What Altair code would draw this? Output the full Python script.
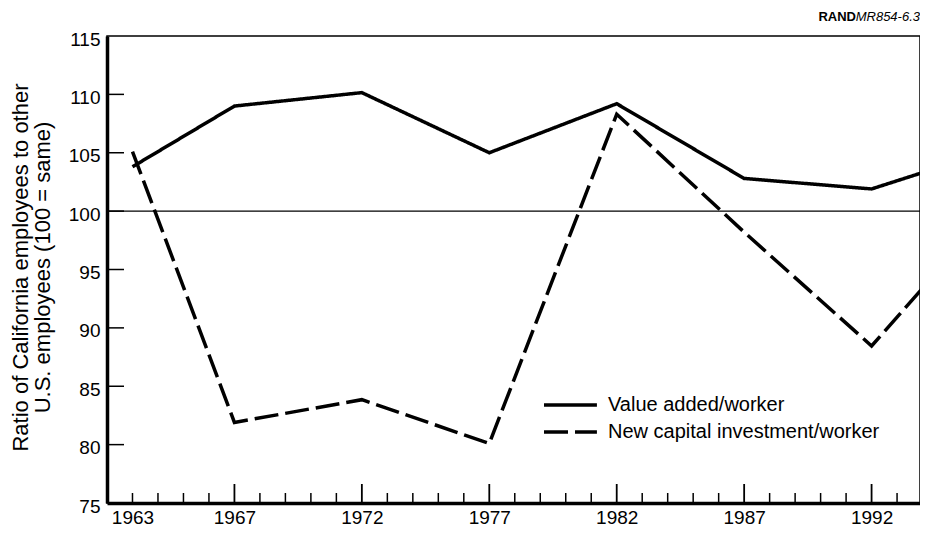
import altair as alt
import pandas as pd

FONT = "Liberation Sans"

# ---- data ----
SERIES = ["Value added/worker", "New capital investment/worker"]
YEARS_VA = [1963, 1967, 1972, 1977, 1982, 1987, 1992, 1994]
VALUE_ADDED = [103.8, 109.0, 110.15, 105.0, 109.2, 102.8, 101.9, 103.3]
YEARS_NC = [1963, 1967, 1972, 1977, 1982, 1987, 1992, 1994]
NEW_CAPITAL = [105.1, 81.9, 83.85, 80.1, 108.3, 98.2, 88.45, 93.4]

X_LABEL_YEARS = [1963, 1967, 1972, 1977, 1982, 1987, 1992]
X_TICK_YEARS = list(range(1963, 1994))
Y_TICKS = [75, 80, 85, 90, 95, 100, 105, 110, 115]
Y_INNER_TICKS = [80, 85, 90, 95, 100, 105, 110]
Y_TITLE = ["Ratio of California employees to other", "U.S. employees (100 = same)"]
REFERENCE = [100]
SOURCE_BOLD = ["RAND"]
SOURCE_ITALIC = ["MR854-6.3"]

df = pd.DataFrame(
    {
        "year": YEARS_VA + YEARS_NC,
        "value": VALUE_ADDED + NEW_CAPITAL,
        "series": [SERIES[0]] * len(YEARS_VA) + [SERIES[1]] * len(YEARS_NC),
    }
)
ticks_x = pd.DataFrame({"year": X_TICK_YEARS})
ticks_y = pd.DataFrame({"value": Y_INNER_TICKS})
ref_df = pd.DataFrame({"value": REFERENCE})

W, H = 813, 467
PAD_L, PAD_T = 99, 28

x_scale = alt.Scale(domain=[1962, 1993.9], nice=False, zero=False)
y_scale = alt.Scale(domain=[75, 115], nice=False, zero=False)

x_axis = alt.Axis(
    values=X_LABEL_YEARS,
    format="d",
    ticks=False,
    grid=False,
    title="",
    domainWidth=3.5,
    domainColor="black",
    labelFontSize=19,
    labelFont=FONT,
    labelColor="black",
    labelPadding=5,
    labelFlush=False,
)
y_axis = alt.Axis(
    values=Y_TICKS,
    ticks=False,
    grid=False,
    domainWidth=3.5,
    domainColor="black",
    labelFontSize=19,
    labelFont=FONT,
    labelColor="black",
    labelPadding=7,
    labelOffset=3,
    title=Y_TITLE,
    titleFont=FONT,
    titleFontSize=22,
    titleFontWeight="normal",
    titleColor="black",
    titleLineHeight=22,
    titleAngle=270,
    titleAlign="center",
    titleBaseline="middle",
    titleX=-87,
    titleY=231,
)

X = alt.X("year:Q", scale=x_scale, axis=x_axis)
Y = alt.Y("value:Q", scale=y_scale, axis=y_axis)

ref = alt.Chart(ref_df).mark_rule(color="black", strokeWidth=1.3).encode(y=Y)

lines = alt.Chart(df).mark_line(color="black", strokeWidth=3.5, clip=True).encode(
    x=X,
    y=Y,
    strokeDash=alt.StrokeDash(
        "series:N",
        scale=alt.Scale(domain=SERIES, range=[[1, 0], [24, 7]]),
        legend=alt.Legend(
            title=None,
            orient="none",
            legendX=427,
            legendY=359,
            padding=0,
            symbolType="M0,0H10",
            symbolSize=112,
            symbolStrokeWidth=3.5,
            symbolStrokeColor="black",
            labelFont=FONT,
            labelFontSize=20,
            labelColor="black",
            labelOffset=54,
            labelLimit=400,
            rowPadding=7,
        ),
    ),
)

# inward-pointing axis ticks
minor_x = alt.Chart(ticks_x).transform_filter("datum.year % 5 != 2").mark_rule(
    color="black", strokeWidth=1.5
).encode(x=X, y=alt.value(H), y2=alt.value(H - 10))
major_x = alt.Chart(ticks_x).transform_filter("datum.year % 5 == 2").mark_rule(
    color="black", strokeWidth=1.8
).encode(x=X, y=alt.value(H), y2=alt.value(H - 19))
inner_y = alt.Chart(ticks_y).mark_rule(color="black", strokeWidth=1.5).encode(
    y=Y, x=alt.value(0), x2=alt.value(17)
)

src_bold = alt.Chart(pd.DataFrame({"t": SOURCE_BOLD})).mark_text(
    align="right", baseline="alphabetic", font=FONT, fontSize=13, fontWeight="bold", color="black"
).encode(text="t:N", x=alt.value(W - 64), y=alt.value(-15))

src_italic = alt.Chart(pd.DataFrame({"t": SOURCE_ITALIC})).mark_text(
    align="right", baseline="alphabetic", font=FONT, fontSize=13, fontStyle="italic", color="black"
).encode(text="t:N", x=alt.value(W), y=alt.value(-15))

chart = (
    alt.layer(ref, minor_x, major_x, inner_y, lines, src_bold, src_italic)
    .properties(
        width=W,
        height=H,
        padding={"left": PAD_L, "top": PAD_T, "right": 0, "bottom": 27},
        autosize=alt.AutoSizeParams(type="none"),
        background="white",
    )
    .configure_view(stroke="black", strokeWidth=1.5)
)

chart.save("out.html", embed_options={"renderer": "svg", "actions": False})
